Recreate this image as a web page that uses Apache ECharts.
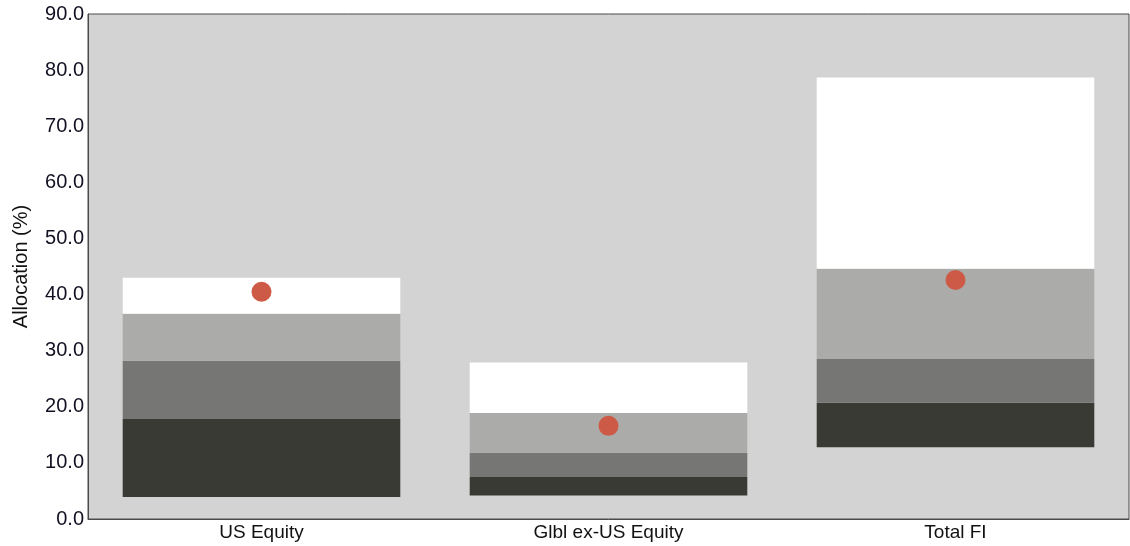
<!DOCTYPE html>
<html>
<head>
<meta charset="utf-8">
<script src="https://cdn.jsdelivr.net/npm/echarts@6/dist/echarts.min.js"></script>
<style>
html,body{margin:0;padding:0;background:#ffffff;}
#chart{width:1130px;height:546px;}
</style>
</head>
<body>
<div id="chart"></div>
<script>
const categories = ['US Equity', 'Glbl ex-US Equity', 'Total FI'];
const lowValues = [3.9, 4.2, 12.8];
const q1Values = [17.8, 7.5, 20.7];
const medianValues = [28.2, 11.8, 28.5];
const q3Values = [36.6, 18.9, 44.6];
const highValues = [43.0, 27.9, 78.7];
const actualValues = [40.5, 16.6, 42.6];
const yTicks = [0, 10, 20, 30, 40, 50, 60, 70, 80, 90];

const FONT = '"Liberation Sans", Arial, sans-serif';

function diff(a, b) { return a.map((v, i) => +(v - b[i]).toFixed(2)); }

const bands = [
  { name: 'base', data: lowValues, color: 'transparent' },
  { name: 'low-q1', data: diff(q1Values, lowValues), color: '#3a3a35' },
  { name: 'q1-med', data: diff(medianValues, q1Values), color: '#767674' },
  { name: 'med-q3', data: diff(q3Values, medianValues), color: '#ababa9' },
  { name: 'q3-high', data: diff(highValues, q3Values), color: '#ffffff' }
];

const series = bands.map(b => ({
  name: b.name,
  type: 'bar',
  stack: 'range',
  data: b.data,
  barCategoryGap: '20%',
  itemStyle: { color: b.color },
  silent: true
}));

series.push({
  name: 'Actual',
  type: 'scatter',
  data: actualValues,
  symbolSize: 20,
  itemStyle: { color: '#cd5a47', opacity: 1 },
  z: 10
});

const chart = echarts.init(document.getElementById('chart'), null, { renderer: 'canvas' });
chart.setOption({
  animation: false,
  backgroundColor: '#ffffff',
  grid: {
    left: 88, right: 1, top: 14, bottom: 27,
    outerBoundsMode: 'none',
    containLabel: false,
    show: true, backgroundColor: '#d3d3d3', borderColor: '#4a4a4a', borderWidth: 1
  },
  xAxis: {
    type: 'category',
    data: categories,
    axisLine: { show: true, lineStyle: { color: '#4a4a4a', width: 1 } },
    axisTick: { show: false },
    axisLabel: { color: '#111111', fontFamily: FONT, fontSize: 19, margin: 4 }
  },
  yAxis: {
    type: 'value',
    min: yTicks[0],
    max: yTicks[yTicks.length - 1],
    interval: 10,
    name: 'Allocation (%)',
    nameLocation: 'middle',
    nameGap: 57,
    nameRotate: 90,
    nameTextStyle: { color: '#111111', fontFamily: FONT, fontSize: 20 },
    axisLine: { show: true, lineStyle: { color: '#4a4a4a', width: 1 } },
    axisTick: { show: false },
    splitLine: { show: false },
    axisLabel: {
      color: '#111122', fontFamily: FONT, fontSize: 20, margin: 4,
      formatter: v => v.toFixed(1)
    }
  },
  series: series
});
</script>
</body>
</html>
